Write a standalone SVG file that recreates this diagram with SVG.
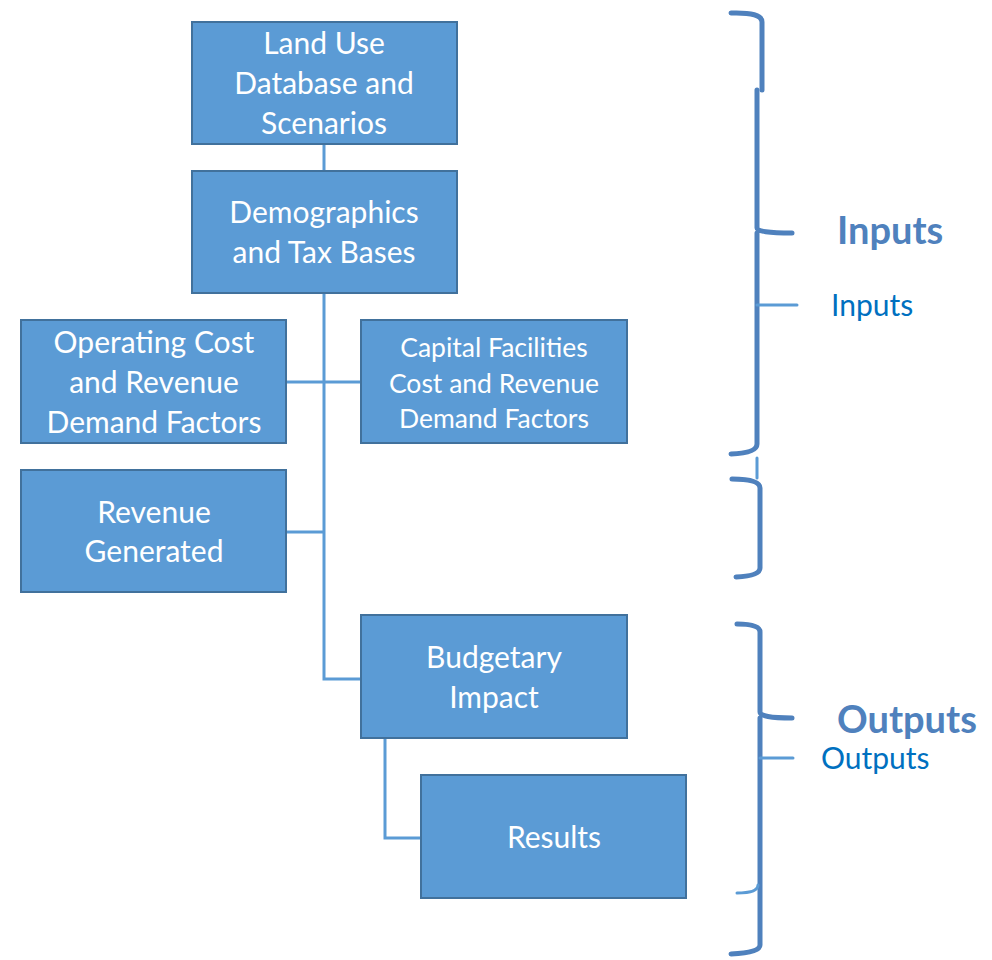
<svg xmlns="http://www.w3.org/2000/svg" width="992" height="960" viewBox="0 0 992 960">
<style>
.box{fill:#5b9bd5;stroke:#41719c;stroke-width:2}
.t{font-family:Lato,"Open Sans",sans-serif;fill:#fff;font-size:30px;text-anchor:middle}
.ts{font-size:26.5px}
.conn{stroke:#5b9bd5;stroke-width:3;fill:none}
.br{stroke:#4f81bd;stroke-width:5;fill:none;stroke-linecap:round;stroke-linejoin:round}
.brl{stroke:#5b9bd5;stroke-width:3;fill:none;stroke-linecap:round}
.lb{font-family:Lato,"Open Sans",sans-serif;fill:#4f81bd;font-weight:bold;font-size:38px}
.ls{font-family:Lato,"Open Sans",sans-serif;fill:#0070c0;font-size:30px}
</style>
<rect width="992" height="960" fill="#fff"/>
<g id="connectors">
<line class="conn" x1="324" y1="144" x2="324" y2="171"/>
<polyline class="conn" points="324,293 324,679 361,679"/>
<line class="conn" x1="286" y1="382" x2="361" y2="382"/>
<line class="conn" x1="286" y1="532" x2="324" y2="532"/>
<polyline class="conn" points="385,738 385,838 421,838"/>
</g>
<g id="land-use"><rect class="box" x="192" y="22" width="265" height="122"/>
<text class="t" x="324" y="54">Land Use</text><text class="t" x="324" y="94">Database and</text><text class="t" x="324" y="134">Scenarios</text></g>
<g id="demographics"><rect class="box" x="192" y="171" width="265" height="122"/>
<text class="t" x="324" y="223">Demographics</text><text class="t" x="324" y="263">and Tax Bases</text></g>
<g id="operating"><rect class="box" x="21" y="320" width="265" height="123"/>
<text class="t" x="154" y="353">Operating Cost</text><text class="t" x="154" y="393">and Revenue</text><text class="t" x="154" y="433">Demand Factors</text></g>
<g id="capital"><rect class="box" x="361" y="320" width="266" height="123"/>
<text class="t ts" x="494" y="357">Capital Facilities</text><text class="t ts" x="494" y="393">Cost and Revenue</text><text class="t ts" x="494" y="428">Demand Factors</text></g>
<g id="revenue"><rect class="box" x="21" y="470" width="265" height="122"/>
<text class="t" x="154" y="523">Revenue</text><text class="t" x="154" y="562">Generated</text></g>
<g id="budgetary"><rect class="box" x="361" y="615" width="266" height="123"/>
<text class="t" x="494" y="668">Budgetary</text><text class="t" x="494" y="708">Impact</text></g>
<g id="results"><rect class="box" x="421" y="775" width="265" height="123"/>
<text class="t" x="554" y="848">Results</text></g>
<g id="inputs-bracket">
<path class="br" d="M731,13 Q762,12 762,22 L762,90"/>
<path class="br" d="M757,90 L757,228 Q757,233 792,233 M757,233 L757,444 Q757,453 731,454"/>
<path class="brl" d="M757,305 L797,305"/>
<text class="lb" x="837" y="244">Inputs</text>
<text class="ls" x="831" y="316">Inputs</text>
</g>
<g id="outputs-bracket">
<path class="brl" d="M757,458 L757,478"/>
<path class="br" d="M732,479 Q760,479 760,488 L760,568 Q760,576 736,577"/>
<path class="br" d="M737,624 Q760,624 760,632 L760,712 Q760,718 792,718 M760,718 L760,945 Q760,953 731,954"/>
<path class="brl" d="M760,758 L793,758 M758,885 Q758,893 737,893"/>
<text class="lb" x="837" y="733">Outputs</text>
<text class="ls" x="821" y="769">Outputs</text>
</g>
</svg>
